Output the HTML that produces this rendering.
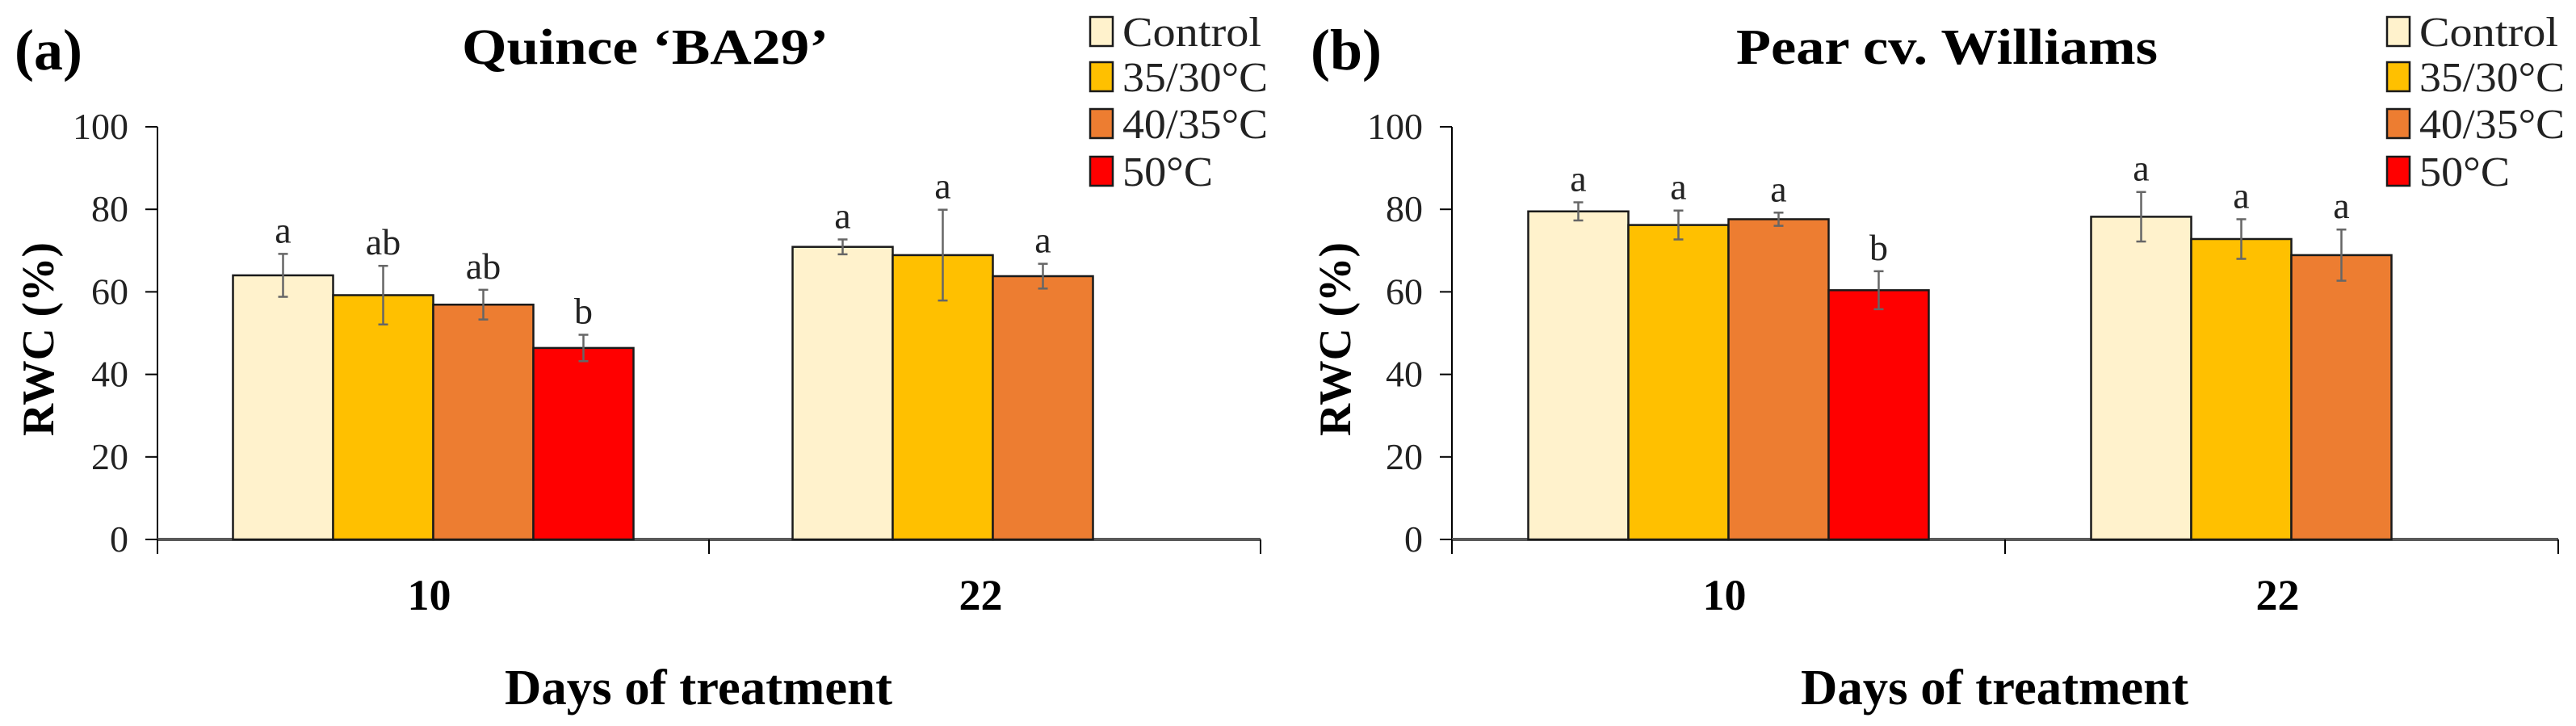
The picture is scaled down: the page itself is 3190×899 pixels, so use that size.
<!DOCTYPE html>
<html><head><meta charset="utf-8"><style>
html,body{margin:0;padding:0;background:#fff;}
svg{display:block;font-family:"Liberation Serif",serif;}
</style></head><body>
<svg id="c" width="3190" height="899" viewBox="0 0 3190 899" xmlns="http://www.w3.org/2000/svg"></svg>
<script>
const categories = ["10", "22"];
const seriesNames = ["Control", "35/30°C", "40/35°C", "50°C"];
const colors = ["#FFF2CC", "#FFC000", "#ED7D31", "#FF0000"];
const yTicks = [0, 20, 40, 60, 80, 100];
// Panel a: Quince 'BA29'
const quinceValues = [[64.0, 59.2, 56.9, 46.4], [70.9, 68.9, 63.8]];
const quinceErrors = [[5.2, 7.1, 3.6, 3.2], [1.8, 11.0, 3.0]];
const quinceLetters = [["a", "ab", "ab", "b"], ["a", "a", "a"]];
// Panel b: Pear cv. Williams
const pearValues = [[79.5, 76.2, 77.6, 60.4], [78.2, 72.8, 68.9]];
const pearErrors = [[2.2, 3.5, 1.6, 4.6], [6.0, 4.8, 6.2]];
const pearLetters = [["a", "a", "a", "b"], ["a", "a", "a"]];
const legendWidths = [172, 180, 180, 112];

const svg = document.getElementById('c');
const NS = "http://www.w3.org/2000/svg";
function mk(tag, attrs, parent, text) {
  const e = document.createElementNS(NS, tag);
  for (const k in attrs) e.setAttribute(k, attrs[k]);
  if (text !== undefined) e.textContent = text;
  (parent || svg).appendChild(e);
  return e;
}
function panel(p) {
  const g = mk('g', {});
  
  
  const y = v => 668 - v * 5.11;
  const barW = 124;
  let e = mk('line', {x1: p.ax, y1: y(100), x2: p.ax, y2: 685, stroke: '#000', 'stroke-width': 2}, g);
   
  e = mk('line', {x1: p.ax, y1: 668, x2: p.axEnd, y2: 668, stroke: '#595959', 'stroke-width': 4}, g);
   
  [p.ax, (p.ax + p.axEnd) / 2, p.axEnd].forEach(x => {
    const t = mk('line', {x1: x, y1: 668, x2: x, y2: 686, stroke: '#000', 'stroke-width': 2}, g);
     
  });
  yTicks.forEach(v => {
    const t = mk('line', {x1: p.ax - 15, y1: y(v), x2: p.ax, y2: y(v), stroke: '#000', 'stroke-width': 2}, g);
     
    const l = mk('text', {x: p.ax - 36, y: y(v) + 15, 'text-anchor': 'end', 'font-size': 46, fill: '#222'}, g, String(v));
     
  });
  const half = (p.axEnd - p.ax) / 2;
  categories.forEach((c, ci) => {
    const vals = p.values[ci];
    const center = p.ax + half * ci + half / 2 + p.groupShift[ci];
    const x0 = center - vals.length * barW / 2;
    const cl = mk('text', {x: p.ax + half * ci + half / 2 + p.labelShift, y: 755, 'text-anchor': 'middle', 'font-size': 54, 'font-weight': 'bold'}, g, c);
     
    vals.forEach((v, si) => {
      const bx = x0 + si * barW;
      const r = mk('rect', {x: bx, y: y(v), width: barW, height: 668 - y(v), fill: colors[si], stroke: '#1a1a1a', 'stroke-width': 2.5}, g);
       
      const er = p.errors[ci][si], cx = bx + barW / 2;
      const eg = mk('g', {stroke: '#666', 'stroke-width': 2.5}, g);
       
      mk('line', {x1: cx, y1: y(v + er), x2: cx, y2: y(v - er)}, eg);
      mk('line', {x1: cx - 6, y1: y(v + er), x2: cx + 6, y2: y(v + er)}, eg);
      mk('line', {x1: cx - 6, y1: y(v - er), x2: cx + 6, y2: y(v - er)}, eg);
      const lt = mk('text', {x: cx, y: y(v + er) - 14, 'text-anchor': 'middle', 'font-size': 46, fill: '#222'}, g, p.letters[ci][si]);
       
    });
  });
  e = mk('text', {x: p.tag, y: 86, 'font-size': 72, 'font-weight': 'bold'}, g, p.tagText);
   
  e = mk('text', {x: p.titleX, y: 79, 'text-anchor': 'middle', 'font-size': 62, 'font-weight': 'bold', textLength: p.titleLen, lengthAdjust: 'spacingAndGlyphs'}, g, p.title);
   
  e = mk('text', {x: 0, y: 0, 'text-anchor': 'middle', 'font-size': 56, 'font-weight': 'bold', textLength: 240, lengthAdjust: 'spacingAndGlyphs', transform: 'translate(' + (p.ytX) + ',420) rotate(-90)'}, g, 'RWC (%)');
   
  e = mk('text', {x: p.xtX, y: 872, 'text-anchor': 'middle', 'font-size': 62, 'font-weight': 'bold', textLength: 480, lengthAdjust: 'spacingAndGlyphs'}, g, 'Days of treatment');
   
  const rows = [39, 95, 153, 212];
  seriesNames.forEach((s, i) => {
    const lg = mk('g', {}, g);
     
    mk('rect', {x: p.legX, y: rows[i] - 18, width: 28, height: 36, fill: colors[i], stroke: '#1a1a1a', 'stroke-width': 2.5}, lg);
    mk('text', {x: p.legX + 40, y: rows[i] + 18, 'font-size': 52, fill: '#222', textLength: legendWidths[i], lengthAdjust: 'spacingAndGlyphs'}, lg, s);
  });
}
panel({name: 'panel-a-quince', ax: 195, axEnd: 1561, values: quinceValues, errors: quinceErrors, letters: quinceLetters,
  groupShift: [0, -52], labelShift: -5, tag: 18, tagText: '(a)', titleX: 799, titleLen: 454, title: 'Quince ‘BA29’', ytX: 66, xtX: 865, legX: 1350});
panel({name: 'panel-b-pear', ax: 1798, axEnd: 3168, values: pearValues, errors: pearErrors, letters: pearLetters,
  groupShift: [0, -50], labelShift: -5, tag: 1623, tagText: '(b)', titleX: 2411, titleLen: 522, title: 'Pear cv. Williams', ytX: 1672, xtX: 2470, legX: 2956});
</script>
</body></html>
